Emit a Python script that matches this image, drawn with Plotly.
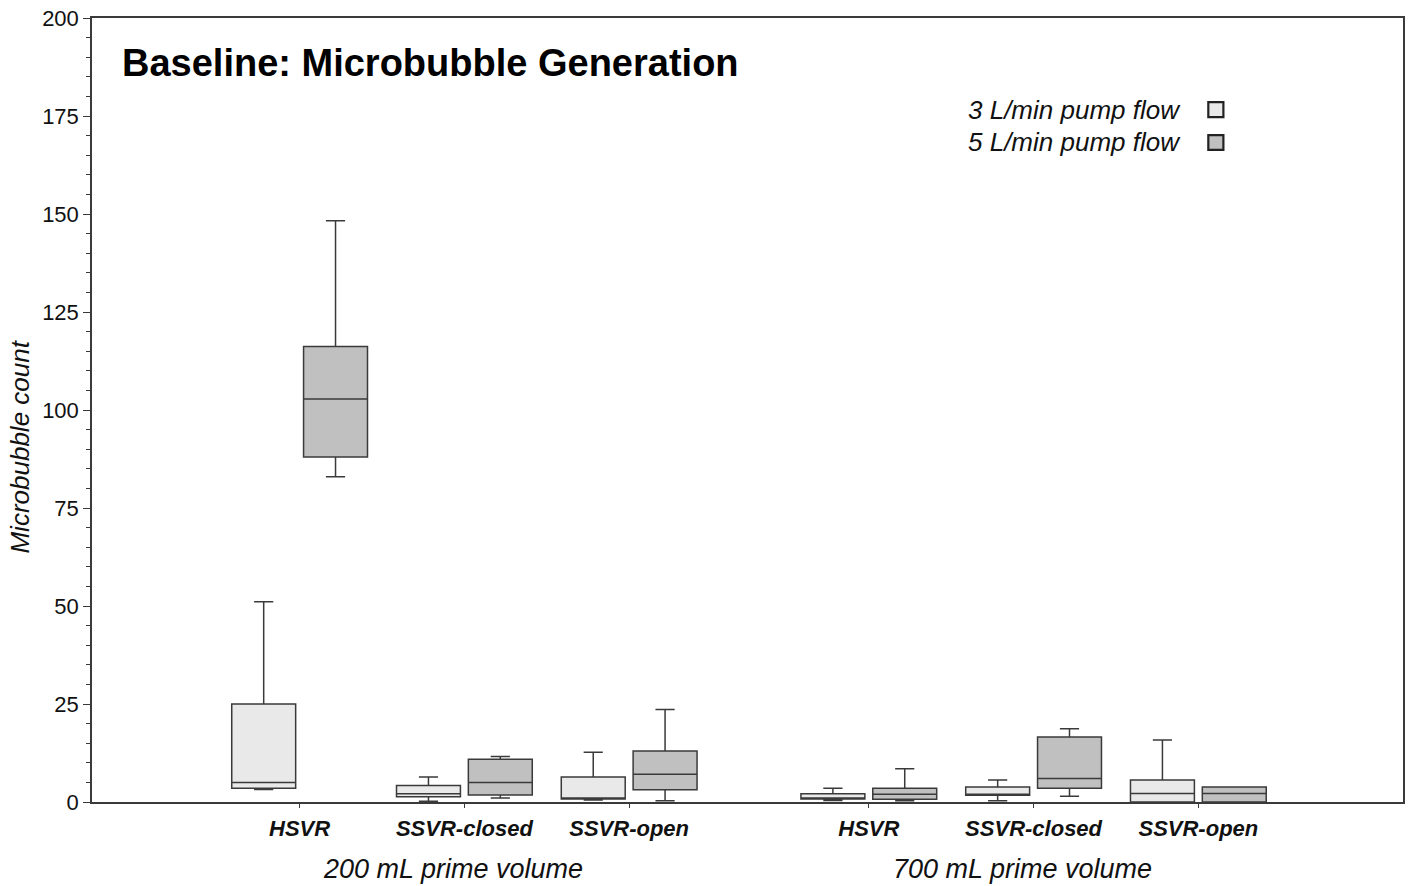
import plotly.graph_objects as go

# ---------------- data ----------------
groups = ["200 mL prime volume", "700 mL prime volume"]
reservoirs = ["HSVR", "SSVR-closed", "SSVR-open"]
flows = ["3 L/min pump flow", "5 L/min pump flow"]

# order: 200 HSVR, 200 SSVR-closed, 200 SSVR-open, 700 HSVR, 700 SSVR-closed, 700 SSVR-open
low_3 = [3.2, 0.2, 0.5, 0.4, 0.35, 0.0]
q1_3 = [3.5, 1.35, 0.75, 0.75, 1.7, 0.0]
med_3 = [5.0, 2.1, 0.95, 1.0, 2.0, 2.2]
q3_3 = [25.0, 4.2, 6.4, 2.1, 3.8, 5.6]
high_3 = [51.1, 6.4, 12.7, 3.5, 5.6, 15.8]

low_5 = [83.0, 1.0, 0.35, 0.3, 1.45, 0.0]
q1_5 = [88.0, 1.8, 3.1, 0.7, 3.5, 0.0]
med_5 = [102.8, 5.0, 7.1, 2.0, 6.0, 2.2]
q3_5 = [116.2, 10.9, 13.0, 3.5, 16.6, 3.8]
high_5 = [148.3, 11.6, 23.6, 8.5, 18.7, 3.8]

y_ticks = [0, 25, 50, 75, 100, 125, 150, 175, 200]

# ---------------- layout helpers ----------------
GROUP_STEP = 3.4545
OFFSET = 0.218
BOX_W = 0.388
cat_pos = [g * GROUP_STEP + i for g in range(len(groups)) for i in range(len(reservoirs))]
cat_text = ["<b><i>%s</i></b>" % r for _ in groups for r in reservoirs]
X_RANGE = [-1.26, cat_pos[-1] + 1.242]

FONT = "Liberation Sans, Arial, Helvetica, sans-serif"
LINE = "#3a3a3a"
FILL_3 = "#e9e9e9"
FILL_5 = "#c0c0c0"

fig = go.Figure()
series = [
    (low_3, q1_3, med_3, q3_3, high_3, -OFFSET, FILL_3),
    (low_5, q1_5, med_5, q3_5, high_5, OFFSET, FILL_5),
]
for (lo, a, m, b, hi, off, fill), name in zip(series, flows):
    fig.add_trace(go.Box(
        x=[p + off for p in cat_pos],
        lowerfence=lo, q1=a, median=m, q3=b, upperfence=hi,
        width=BOX_W, whiskerwidth=0.3,
        fillcolor=fill, line=dict(color=LINE, width=1.5),
        boxpoints=False, name=name, showlegend=False, hoverinfo="skip",
    ))

fig.update_layout(
    width=1411, height=886,
    margin=dict(l=92, r=6, t=15, b=84),
    paper_bgcolor="white", plot_bgcolor="white",
    boxmode="overlay",
    font=dict(family=FONT, color="#111111"),
    showlegend=False,
)
fig.update_xaxes(
    range=X_RANGE,
    showline=True, mirror=True, linecolor=LINE, linewidth=1.5,
    showgrid=False, zeroline=False,
    ticks="outside", ticklen=4, tickcolor=LINE, tickwidth=1,
    tickvals=cat_pos, ticktext=cat_text, ticklabelstandoff=2,
    tickfont=dict(size=22, family=FONT, color="#111111"),
)
fig.update_yaxes(
    range=[0, 200],
    showline=True, mirror=True, linecolor=LINE, linewidth=1.5,
    showgrid=False, zeroline=False,
    ticks="outside", ticklen=7, tickcolor=LINE, tickwidth=1.2,
    tickvals=y_ticks, tickfont=dict(size=22, family=FONT, color="#111111"),
    ticklabeloverflow="allow",
    minor=dict(ticks="outside", ticklen=4, tickcolor=LINE, dtick=5, showgrid=False),
)

# title inside plot
fig.add_annotation(
    text="<b>Baseline: Microbubble Generation</b>",
    xref="paper", yref="paper", x=0.0213, y=0.9428,
    xanchor="left", yanchor="middle", showarrow=False,
    font=dict(size=38, family=FONT, color="#000000"),
)
# y axis title
fig.add_annotation(
    text="<i>Microbubble count</i>", textangle=-90,
    xref="paper", yref="paper", x=-0.0548, y=0.4536,
    xanchor="center", yanchor="middle", showarrow=False,
    font=dict(size=26, family=FONT, color="#111111"),
)
# group labels
for g, label in enumerate(groups):
    fig.add_annotation(
        text="<i>%s</i>" % label,
        xref="x", yref="paper", x=g * GROUP_STEP + 0.93, y=-0.0851,
        xanchor="center", yanchor="middle", showarrow=False,
        font=dict(size=27, family=FONT, color="#111111"),
    )
# legend (text left, swatch right)
leg_y = [0.8831, 0.8412]
for name, fill, yy in zip(flows, [FILL_3, FILL_5], leg_y):
    fig.add_annotation(
        text="<i>%s</i>" % name,
        xref="paper", yref="paper", x=0.8324, y=yy,
        xanchor="right", yanchor="middle", showarrow=False,
        font=dict(size=26, family=FONT, color="#111111"),
    )
    fig.add_shape(
        type="rect", xref="paper", yref="paper",
        x0=0.8515, x1=0.8630, y0=yy - 0.0095, y1=yy + 0.0095,
        fillcolor=fill, line=dict(color="#222222", width=2.2),
    )

fig.write_html(
    "out.html",
    config={"displayModeBar": False},
    post_script="document.body.style.margin='0px';document.body.style.overflow='hidden';",
)
